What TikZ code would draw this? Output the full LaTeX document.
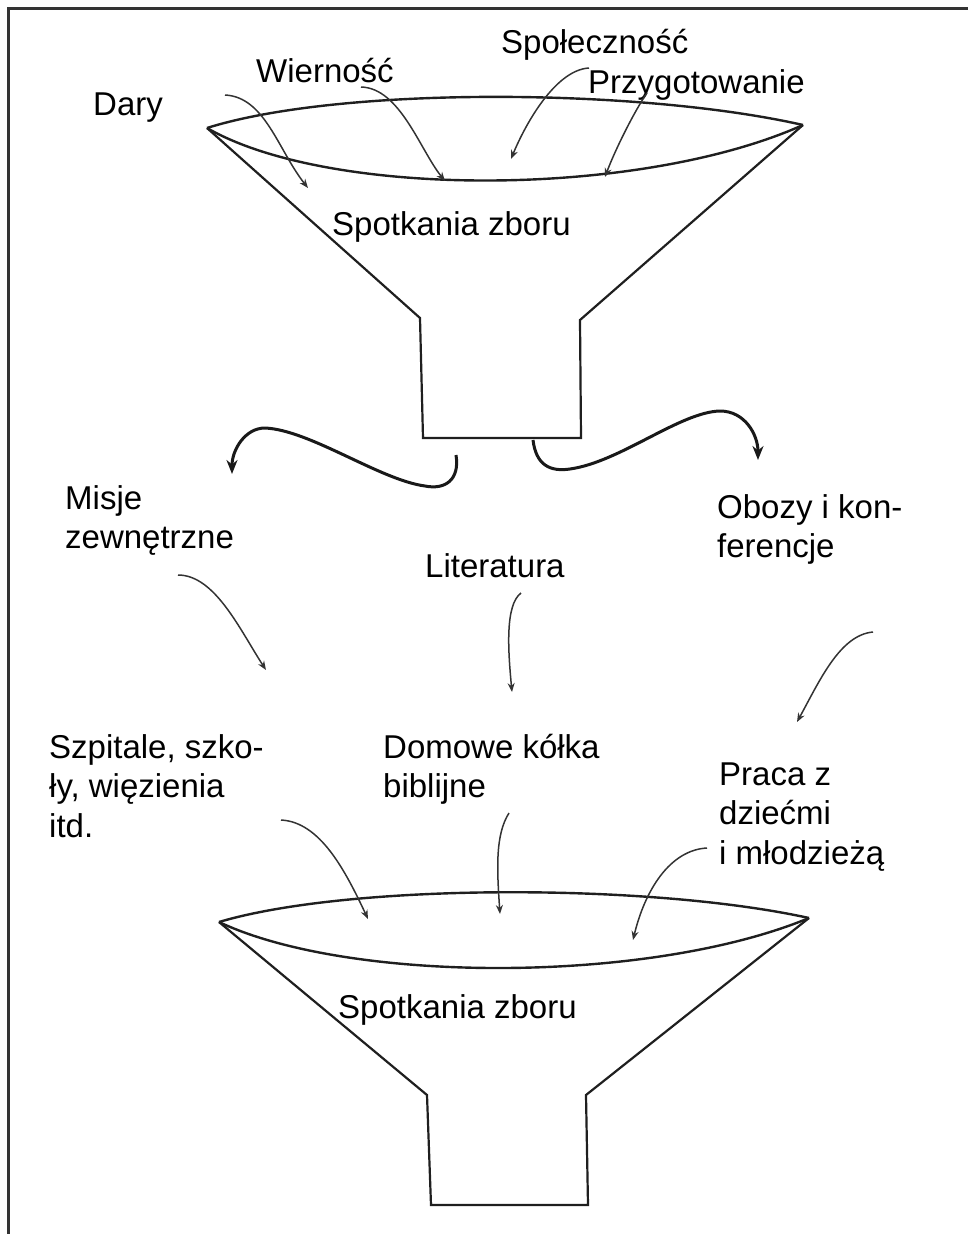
\documentclass[tikz,border=0pt]{standalone}
\usepackage{fontspec}
\setmainfont{Liberation Sans}
\usetikzlibrary{arrows.meta}

\begin{document}
\begin{tikzpicture}[x=1pt,y=-1pt,
  lbl/.style={inner sep=0pt, anchor=base west, align=left,
    font=\fontsize{33}{39.5}\selectfont},
  rim/.style={line width=2.4pt, draw=black!88, line join=miter},
  body/.style={line width=2.2pt, draw=black!88, line join=miter},
  thin arrow/.style={line width=1.5pt, draw=black!80,
    -{Stealth[length=9pt,width=7pt]}},
  wide arrow/.style={line width=3pt, draw=black!90,
    -{Stealth[length=14pt,width=11pt]}},
  frame/.style={line width=2.6pt, draw=black!80}]

\useasboundingbox (0,0) rectangle (968,1234);

% frame along the top and the left side
\draw[frame] (968,8.5) -- (8.5,8.5) -- (8.5,1234);

% ---------- upper funnel ----------
\coordinate (tl) at (207,128);
\coordinate (tr) at (803,125);
\draw[rim] (tl) .. controls (340,86) and (640,88) .. (tr);
\draw[rim] (tl) .. controls (330,199) and (640,198) .. (tr);
\draw[body] (tl) -- (420,318) -- (423,438) -- (581,438) -- (580,320) -- (tr);

% ---------- lower funnel ----------
\coordinate (bl) at (219,922);
\coordinate (br) at (809,918);
\draw[rim] (bl) .. controls (350,883) and (650,883) .. (br);
\draw[rim] (bl) .. controls (350,984) and (650,984) .. (br);
\draw[body] (bl) -- (427,1095) -- (431,1205) -- (588,1205) -- (586,1095) -- (br);

% ---------- labels (base anchor sits on the last line) ----------
\node[lbl] (dary)   at (93,115)  {Dary};
\node[lbl] (wiern)  at (256,82)  {Wierność};
\node[lbl] (spol)   at (501,53)  {Społeczność};
\node[lbl] (przyg)  at (588,93)  {Przygotowanie};
\node[lbl] (spot1)  at (332,235) {Spotkania zboru};
\node[lbl] (misje)  at (65,548.5)  {Misje\\zewnętrzne};
\node[lbl] (obozy)  at (717,557.5) {Obozy i kon-\\ferencje};
\node[lbl] (lit)    at (425,577) {Literatura};
\node[lbl] (szp)    at (49,837)  {Szpitale, szko-\\ły, więzienia\\itd.};
\node[lbl] (dom)    at (383,797.5) {Domowe kółka\\biblijne};
\node[lbl] (praca)  at (719,864) {Praca z\\dziećmi\\i młodzieżą};
\node[lbl] (spot2)  at (338,1018) {Spotkania zboru};

% ---------- arrows into the upper funnel ----------
\coordinate (a1s) at (225,95);  \coordinate (a1e) at (308,188);
\coordinate (a2s) at (361,87);  \coordinate (a2e) at (445,181);
\coordinate (a3s) at (589,68);  \coordinate (a3e) at (511,159);
\coordinate (a4s) at (647,93);  \coordinate (a4e) at (605,177);
\draw[thin arrow] (a1s) .. controls (265,97) and (278,150) .. (a1e);
\draw[thin arrow] (a2s) .. controls (400,88) and (420,150) .. (a2e);
\draw[thin arrow] (a3s) .. controls (555,70) and (525,125) .. (a3e);
\draw[thin arrow] (a4s) .. controls (635,110) and (615,150) .. (a4e);

% ---------- outflow from the upper funnel ----------
\coordinate (ls) at (456,455); \coordinate (le) at (232,474);
\coordinate (rs) at (533,440); \coordinate (re) at (758,460);
\draw[wide arrow] (ls) .. controls (460,480) and (445,490) .. (425,486)
  .. controls (380,480) and (310,430) .. (265,428)
  .. controls (245,428) and (232,450) .. (le);
\draw[wide arrow] (rs) .. controls (536,465) and (550,472) .. (570,469)
  .. controls (620,462) and (680,412) .. (720,411)
  .. controls (745,411) and (758,435) .. (re);

% ---------- middle arrows ----------
\coordinate (m1s) at (178,575); \coordinate (m1e) at (266,670);
\coordinate (m2s) at (521,593); \coordinate (m2e) at (512,692);
\coordinate (m3s) at (873,632); \coordinate (m3e) at (797,722);
\draw[thin arrow] (m1s) .. controls (215,575) and (240,630) .. (m1e);
\draw[thin arrow] (m2s) .. controls (505,605) and (508,650) .. (m2e);
\draw[thin arrow] (m3s) .. controls (840,635) and (820,680) .. (m3e);

% ---------- arrows into the lower funnel ----------
\coordinate (b1s) at (281,820); \coordinate (b1e) at (368,919);
\coordinate (b2s) at (509,813); \coordinate (b2e) at (500,914);
\coordinate (b3s) at (707,848); \coordinate (b3e) at (633,940);
\draw[thin arrow] (b1s) .. controls (320,822) and (345,870) .. (b1e);
\draw[thin arrow] (b2s) .. controls (495,835) and (497,870) .. (b2e);
\draw[thin arrow] (b3s) .. controls (670,850) and (645,890) .. (b3e);

\end{tikzpicture}
\end{document}
